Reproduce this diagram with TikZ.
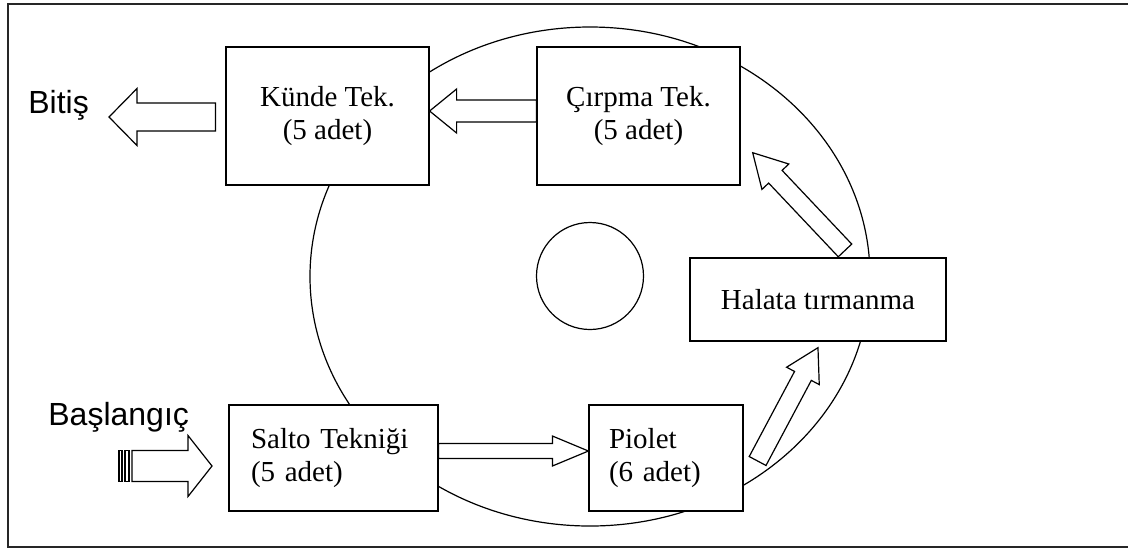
\documentclass[tikz,border=0pt]{standalone}
\usepackage{fontspec}
\setmainfont{Liberation Serif}
\newfontfamily\arialfont{Liberation Sans}
\usetikzlibrary{calc, positioning}

\tikzset{
  box/.style={draw, fill=white, line width=0.6pt, inner sep=0pt,
    font=\fontsize{14.5}{16.5}\selectfont},
  tekbox/.style={box, minimum width=101.5pt, minimum height=69pt, align=center},
  flushbox/.style={box, minimum height=53pt, align=left},
  arrowbody/.style={draw, fill=white, line width=0.6pt, line join=miter},
  sidelabel/.style={inner sep=0pt, font=\arialfont\fontsize{16}{19}\selectfont},
  frame/.style={line width=0.9pt, draw=black!85},
}

% tail, tip, shaft width, head width, head length
\newcommand{\blockarrow}[5]{%
  \path let \p1=($(#2)-(#1)$) in
    \pgfextra{\pgfmathsetmacro\baAng{atan2(\y1,\x1)}%
      \pgfmathsetmacro\baLen{veclen(\x1,\y1)}%
      \xdef\baAng{\baAng}\xdef\baLen{\baLen}};
  \draw[arrowbody, shift={(#1)}, rotate=\baAng]
    (0pt,{#3/2}) -- ({\baLen pt-#5},{#3/2}) -- ({\baLen pt-#5},{#4/2})
    -- (\baLen pt,0pt) -- ({\baLen pt-#5},{-#4/2}) -- ({\baLen pt-#5},{-#3/2})
    -- (0pt,{-#3/2}) -- cycle;
}

\begin{document}
\begin{tikzpicture}[x=0.5pt, y=-0.5pt]
\useasboundingbox (0,0) rectangle (1128,548);
\draw[frame] (1128,4) -- (8,4) -- (8,547) -- (1128,547);

\draw[line width=0.6pt] (590,276.5) ellipse [x radius=280, y radius=249.5];
\draw[line width=0.6pt] (590,276) circle [radius=53.5];

\node[tekbox] at (327.5,116) (kunde) {Künde Tek.\\(5 adet)};
\node[tekbox] at (638.5,116) (cirpma) {Çırpma Tek.\\(5 adet)};
\node[flushbox, minimum width=104.5pt, text width=82.5pt] at (333.5,458) (salto) {Salto Tekniği\\(5 adet)};
\node[flushbox, minimum width=77pt, text width=57pt] at (666,458) (piolet) {Piolet\\(6 adet)};
\node[box, minimum width=128pt, minimum height=41.5pt] at (818,299.5) (halata) {Halata tırmanma};

\node[sidelabel, anchor=base west] at (28,113) (bitis) {Bitiş};
\node[sidelabel, anchor=base west] at (48,425) (baslangic) {Başlangıç};
\coordinate (bitisTip) at (109,117);
\coordinate (startTail) at (132,466);
\coordinate (startTip) at (212,466);

\blockarrow{[yshift=2.5pt]cirpma.west}{[yshift=2.5pt]kunde.east}{11pt}{22pt}{13.5pt}
\blockarrow{[xshift=-5pt,yshift=-0.5pt]kunde.west}{bitisTip}{14pt}{28.5pt}{14pt}
\blockarrow{startTail}{startTip}{15.5pt}{30.5pt}{12pt}
\draw[arrowbody] (119,450.5) rectangle (122,481.5);
\draw[arrowbody] (125,450.5) rectangle (129,481.5);
\blockarrow{[yshift=3.5pt]salto.east}{[yshift=3.5pt]piolet.west}{7.5pt}{15pt}{18pt}
\blockarrow{[xshift=7pt,yshift=-1.5pt]piolet.east}{[yshift=-3pt]halata.south}{9.5pt}{18.5pt}{16pt}
\blockarrow{[xshift=13.5pt,yshift=3.5pt]halata.north}{[xshift=6pt,yshift=16.5pt]cirpma.south east}{9.25pt}{18.5pt}{16.5pt}

\end{tikzpicture}
\end{document}
